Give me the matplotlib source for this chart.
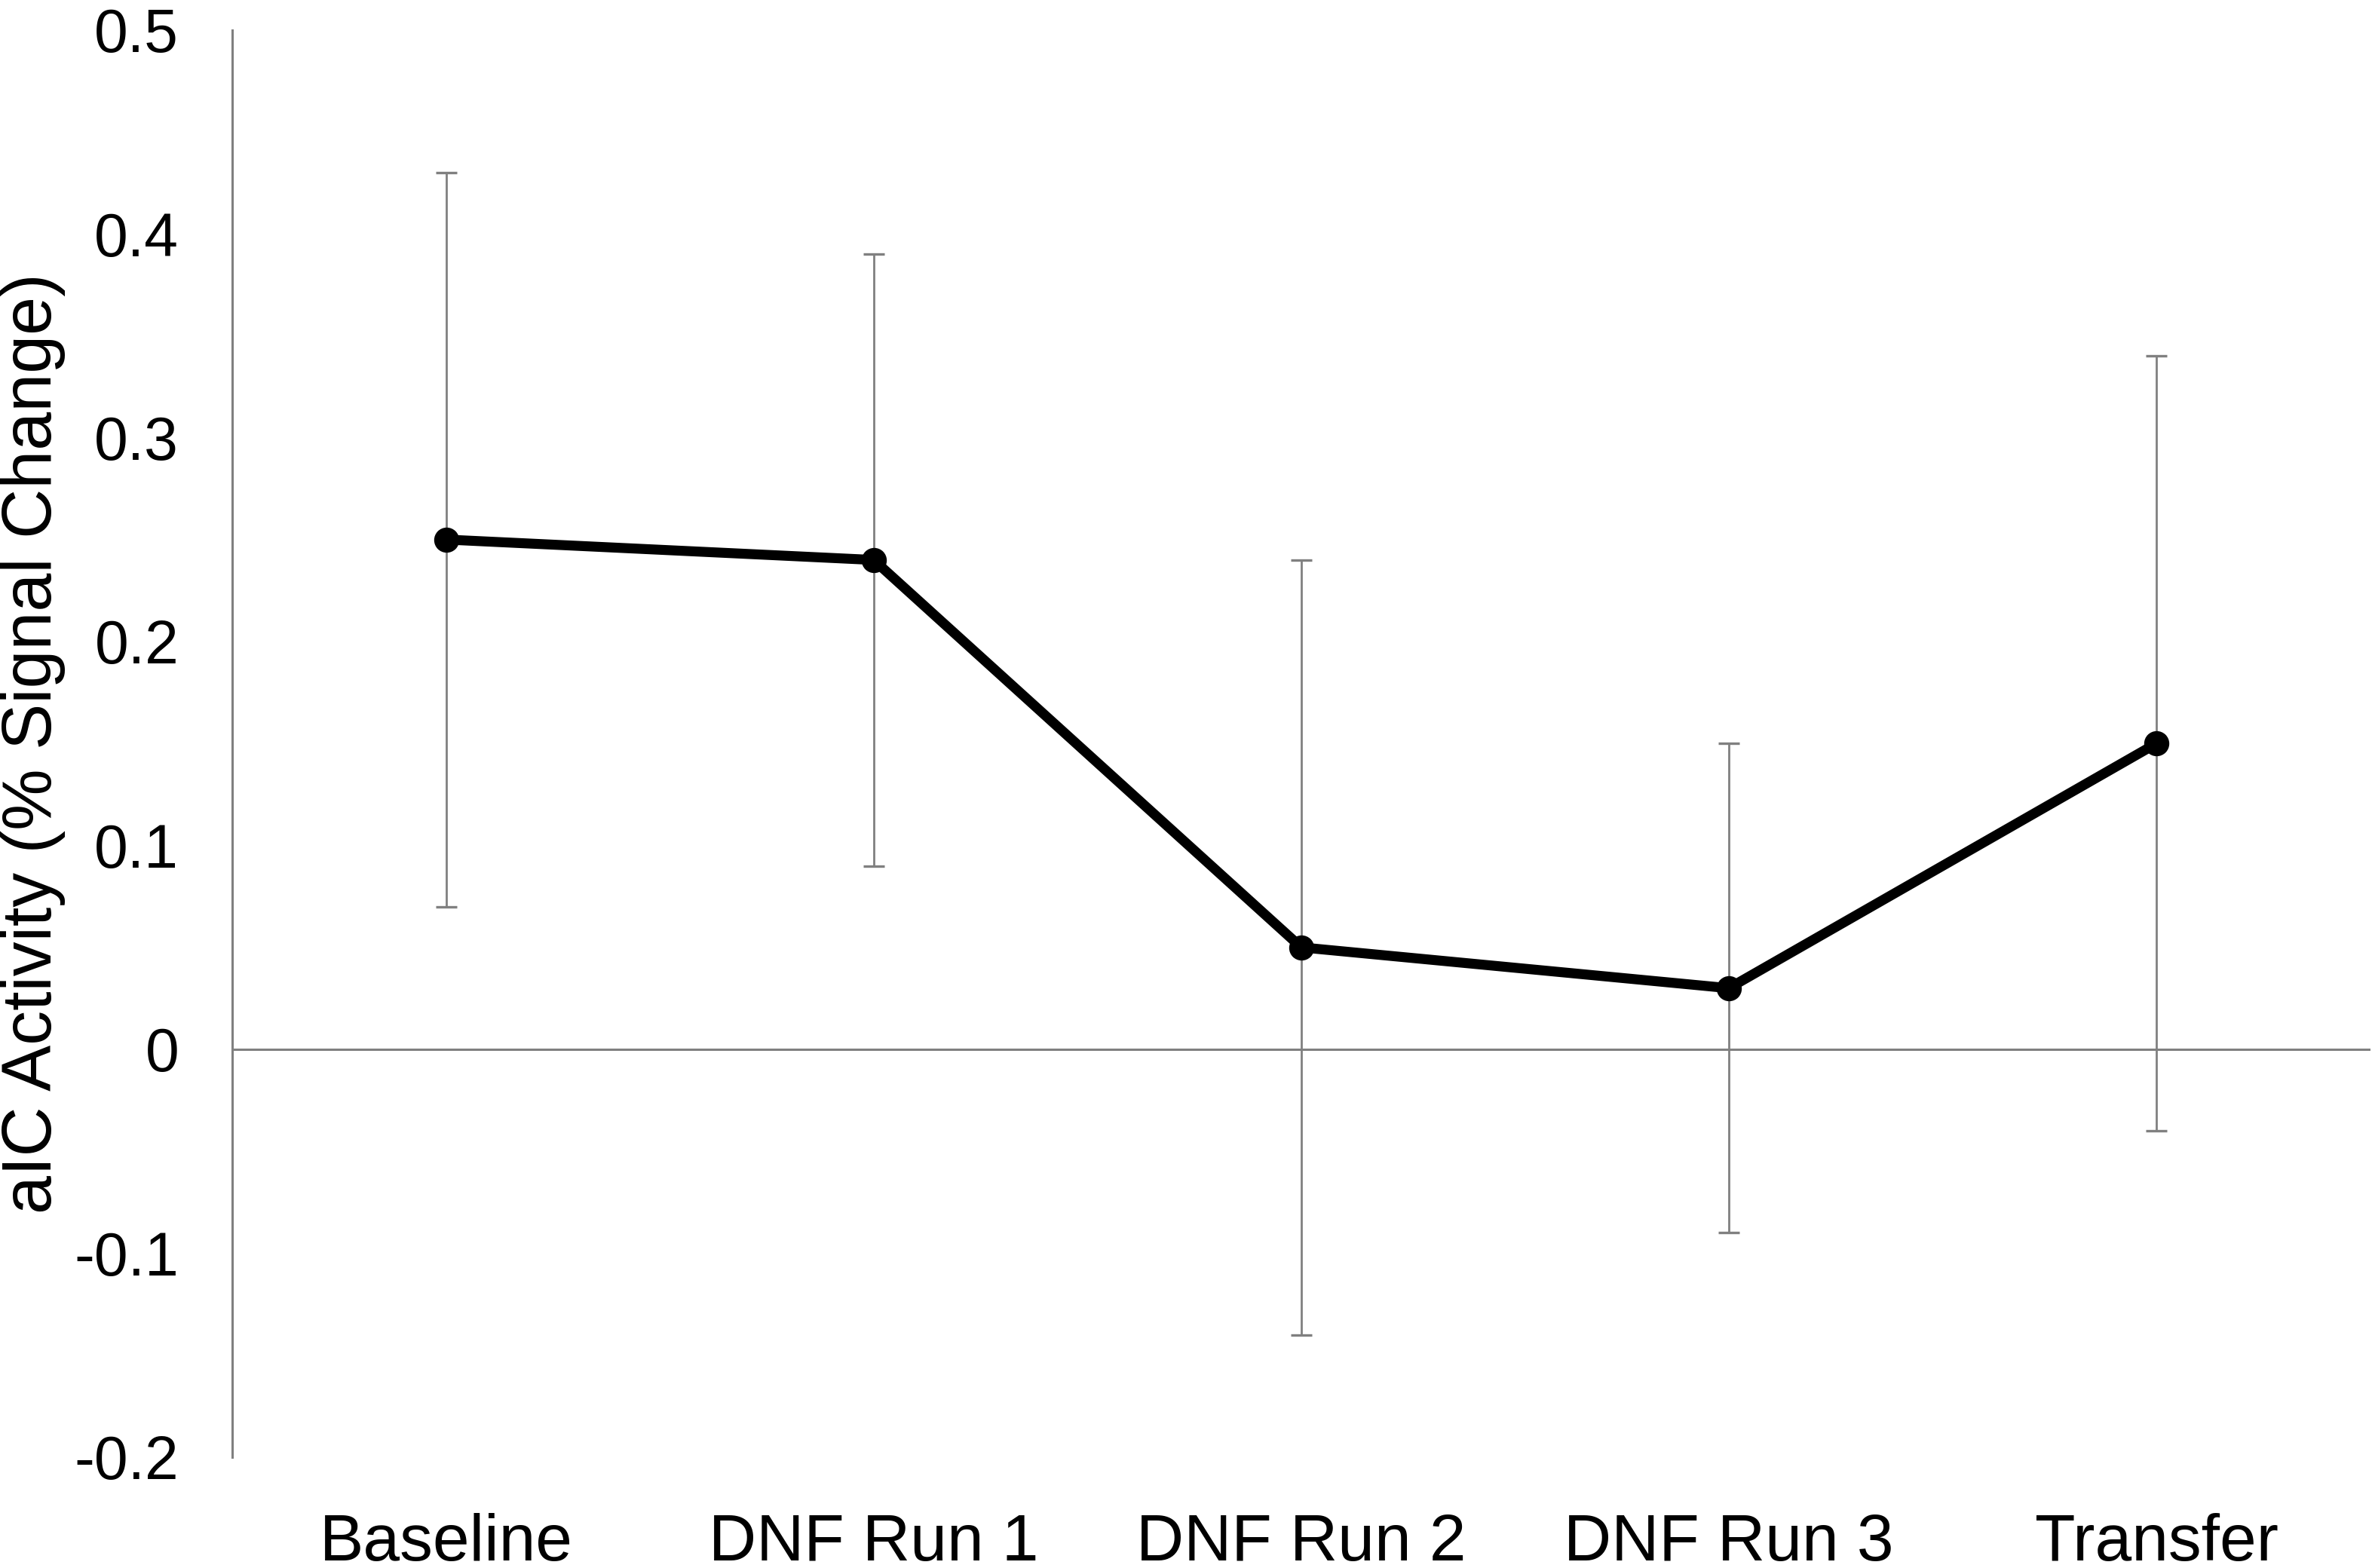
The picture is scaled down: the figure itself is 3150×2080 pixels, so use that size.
import matplotlib
matplotlib.use("Agg")
import matplotlib.pyplot as plt

# Values
conditions = ["Baseline", "DNF Run 1", "DNF Run 2", "DNF Run 3", "Transfer"]
activity = [0.25, 0.24, 0.05, 0.03, 0.15]
error = [0.18, 0.15, 0.19, 0.12, 0.19]
y_ticks = [-0.2, -0.1, 0, 0.1, 0.2, 0.3, 0.4, 0.5]
y_tick_labels = ["-0.2", "-0.1", "0", "0.1", "0.2", "0.3", "0.4", "0.5"]

plt.rcParams["font.family"] = ["Liberation Sans", "DejaVu Sans"]

fig = plt.figure(figsize=(31.5, 20.8), dpi=100)
ax = fig.add_axes([0.0978, 0.0707, 0.9002, 0.9103])

x = list(range(len(conditions)))
gray = "#808080"

ax.axhline(0, color=gray, linewidth=2.2, zorder=1)
ax.errorbar(x, activity, yerr=error, fmt="none", ecolor=gray,
            elinewidth=2.0, capsize=10, capthick=2.4, zorder=2)
ax.plot(x, activity, color="black", linewidth=9.5, marker="o",
        markersize=23, zorder=3)

ax.set_xlim(-0.5, len(conditions) - 0.5)
ax.set_ylim(-0.2, 0.5)
ax.set_yticks(y_ticks)
ax.set_yticklabels(y_tick_labels)
ax.set_xticks(x)
ax.set_xticklabels(conditions)
ax.tick_params(axis="both", length=0)
ax.tick_params(axis="y", pad=51, labelsize=58)
ax.tick_params(axis="x", pad=53, labelsize=63)

for side in ["top", "right", "bottom"]:
    ax.spines[side].set_visible(False)
ax.spines["left"].set_color(gray)
ax.spines["left"].set_linewidth(2.2)

ax.set_ylabel("aIC Activity (% Signal Change)", fontsize=66)
ax.yaxis.set_label_coords(-0.078, 0.5)

fig.savefig("out.png", dpi=100, facecolor="white")
plt.close(fig)
